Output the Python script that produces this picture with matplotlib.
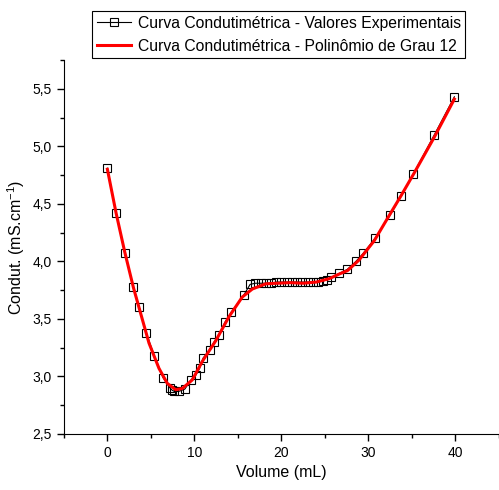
import matplotlib
matplotlib.use('Agg')
import matplotlib.pyplot as plt
from matplotlib.ticker import MultipleLocator, FuncFormatter

# experimental points (volume in mL, conductivity in mS/cm)
vol = [0, 1, 2, 3, 3.66, 4.46, 5.39, 6.39, 7.19, 7.45, 7.7, 8.2, 8.9, 9.6,
       10.15, 10.6, 11.0, 11.76, 12.26, 12.83, 13.5, 14.25, 15.7, 16.4, 17.0,
       17.6, 18.2, 18.8, 19.4, 20.0, 20.6, 21.2, 21.8, 22.4, 23.0, 23.6, 24.2,
       24.8, 25.2, 25.68, 26.64, 27.56, 28.56, 29.4, 30.75, 32.47, 33.74,
       35.16, 37.57, 39.87]
cond = [4.81, 4.42, 4.07, 3.78, 3.60, 3.38, 3.18, 2.99, 2.90, 2.88, 2.87,
        2.87, 2.89, 2.97, 3.01, 3.07, 3.16, 3.23, 3.30, 3.36, 3.47, 3.56, 3.71,
        3.80, 3.81, 3.81, 3.81, 3.81, 3.82, 3.82, 3.82, 3.82, 3.82, 3.82, 3.82,
        3.82, 3.82, 3.83, 3.84, 3.86, 3.895, 3.93, 4.00, 4.07, 4.20, 4.40,
        4.565, 4.76, 5.10, 5.43]

# fitted polynomial curve
fit_vol = [0, 1, 2, 3, 3.63, 4.78, 5.93, 6.88, 7.85, 8.6, 9.76, 10.9, 12.45,
           13.98, 15.5, 16.66, 18.2, 19.54, 21, 22.5, 24, 25.5, 26.64, 27.6,
           28.9, 30.67, 32.0, 33.74, 35.27, 37.57, 39.87]
fit_cond = [4.80, 4.42, 4.08, 3.77, 3.60, 3.29, 3.07, 2.94, 2.885, 2.895,
            2.97, 3.13, 3.31, 3.52, 3.69, 3.76, 3.805, 3.81, 3.815, 3.81, 3.82,
            3.85, 3.89, 3.92, 4.01, 4.18, 4.35, 4.57, 4.77, 5.08, 5.41]

plt.rcParams['font.family'] = ['Liberation Sans', 'DejaVu Sans']
plt.rcParams['mathtext.fontset'] = 'custom'
plt.rcParams['mathtext.rm'] = 'Liberation Sans'

fig = plt.figure(figsize=(4.99, 4.90), dpi=100)
ax = fig.add_axes([0.128, 0.1143, 0.872, 0.7633])

ax.plot(vol, cond, color='black', lw=0.8, marker='s', ms=6,
        mfc='none', mec='black', mew=0.8, zorder=2,
        label='Curva Condutimétrica - Valores Experimentais')
ax.plot(fit_vol, fit_cond, color='red', lw=2.2, zorder=3,
        label='Curva Condutimétrica - Polinômio de Grau 12')

ax.set_xlim(-5, 45)
ax.set_ylim(2.5, 5.75)
ax.xaxis.set_major_locator(MultipleLocator(10))
ax.xaxis.set_minor_locator(MultipleLocator(5))
ax.yaxis.set_major_locator(MultipleLocator(0.5))
ax.yaxis.set_minor_locator(MultipleLocator(0.25))
ax.yaxis.set_major_formatter(FuncFormatter(lambda v, p: ('%.1f' % v).replace('.', ',')))

for s in ['top', 'right']:
    ax.spines[s].set_visible(False)
ax.tick_params(which='major', direction='out', length=5, width=1, labelsize=10)
ax.tick_params(which='minor', direction='out', length=3, width=1)

ax.set_xlabel('Volume (mL)', fontsize=11.5)
ax.set_ylabel(r'Condut. (mS.cm$^{\mathregular{-1}}$)', fontsize=11.5)

leg = fig.legend(loc='upper left', bbox_to_anchor=(92 / 499, 1 - 11 / 490),
                 bbox_transform=fig.transFigure, borderaxespad=0,
                 fontsize=11.3, handlelength=2.2, handletextpad=0.4,
                 labelspacing=0.5, borderpad=0.3, fancybox=False,
                 framealpha=1, edgecolor='black')
leg.get_frame().set_linewidth(0.8)

fig.savefig('out.png', dpi=100)
